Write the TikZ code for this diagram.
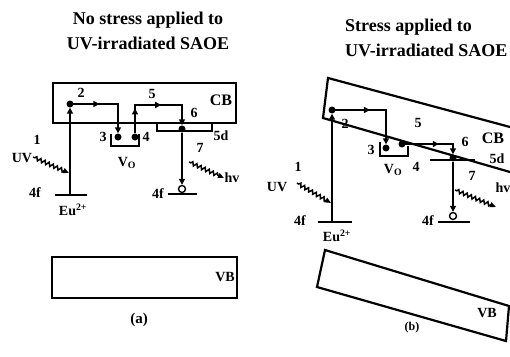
\documentclass[tikz,border=0pt]{standalone}
\usepackage{fontspec}
\setmainfont{Liberation Serif}
\usetikzlibrary{arrows.meta,decorations.pathmorphing,decorations.markings}

\tikzset{
	band/.style={line width=2.2pt, line join=miter},
	hop/.style={line width=2pt, line join=miter},
	tip/.style={-{Triangle[length=6pt,width=6pt]}},
	arrowat/.style={postaction={decorate, decoration={markings, mark=at position #1 with {\arrow{Triangle[length=6pt,width=6pt]}}}}},
	photon/.style={line width=1.5pt, decorate, decoration={snake, amplitude=1.8pt, segment length=4.5pt, pre length=2pt, post length=5pt}, -{Triangle[length=6pt,width=5pt]}},
	electron/.style={circle, fill, inner sep=0pt, minimum size=7pt},
	hole/.style={circle, draw, line width=1.4pt, fill=white, inner sep=0pt, minimum size=7pt},
	lbl/.style={font=\bfseries\fontsize{14}{14}\selectfont, inner sep=0pt},
	title/.style={font=\bfseries\fontsize{18}{25}\selectfont, inner sep=0pt},
}

\begin{document}
\begin{tikzpicture}[x=1pt, y=-1pt]
	\useasboundingbox (0,0) rectangle (510,356);
	% (a) no stress
	\node[title, align=center] (ttla) at (148,31) {No stress applied to\\UV-irradiated SAOE};
	\draw[band] (53,83) rectangle (236,123);
	\draw[band] (52,257) rectangle (237,298);
	\draw[band] (157,123) -- (157,131) -- (212,131) -- (212,123);
	\draw[band] (111,134) -- (111,146) -- (139,146) -- (139,134);
	\draw[band] (55,195) -- (87,195);
	\draw[band] (168,194) -- (197,194);
	\coordinate (eua) at (70,195);
	\node[electron] (ea) at (70,104) {};
	\node[electron] (da3) at (118,137) {};
	\node[electron] (da4) at (135,137) {};
	\node[electron] (xa6) at (182,129) {};
	\node[hole] (ha) at (182,189) {};
	\draw[hop, tip] (eua) -- (ea);
	\draw[hop, tip, arrowat=0.38] (ea.center) -- (ea -| da3) -- (da3);
	\draw[hop, tip, arrowat=0.26, arrowat=0.57] (da4.north) -- (135,105) -- (182,105) -- (xa6);
	\draw[hop, tip] (xa6) -- (ha);
	\coordinate (uva0) at (33,157);
	\coordinate (uva1) at (69,173);
	\draw[photon] (uva0) -- (uva1);
	\coordinate (hva0) at (189,162);
	\coordinate (hva1) at (224,178);
	\draw[photon] (hva0) -- (hva1);
	\node[lbl] (na1) at (37,140) {1};
	\node[lbl] (nauv) at (22,158) {UV};
	\node[lbl] (naf) at (35,193) {4f};
	\node[lbl] (naeu) at (73,210) {Eu\textsuperscript{2+}};
	\node[lbl] (na2) at (81,93) {2};
	\node[lbl] (na3) at (103,137) {3};
	\node[lbl] (na4) at (146,137) {4};
	\node[lbl] (navo) at (127,163) {V\textsubscript{O}};
	\node[lbl] (na5) at (152,94) {5};
	\node[lbl] (na6) at (194,113) {6};
	\node[lbl, font=\bfseries\fontsize{16}{16}\selectfont] (nacb) at (221,100) {CB};
	\node[lbl] (na5d) at (221,136) {5d};
	\node[lbl] (na7) at (200,148) {7};
	\node[lbl] (nahv) at (232,178) {hv};
	\node[lbl] (naf2) at (158,194) {4f};
	\node[lbl] (navb) at (225,277) {VB};
	\node[lbl, font=\bfseries\fontsize{15}{15}\selectfont] (nacap) at (139,320) {(a)};
	% (b) stress applied
	\node[title, align=left, anchor=west] (ttlb) at (345,38) {Stress applied to\\UV-irradiated SAOE};
	\draw[band] (510,127) -- (328,78) -- (323,118) -- (510,172);
	\draw[band] (325,250) -- (509,306) -- (506,341) -- (317,287) -- cycle;
	\draw[band] (380,142) -- (380,156) -- (408,156) -- (408,146);
	\draw[band] (430,160) -- (475,160);
	\draw[band] (318,222) -- (352,222);
	\draw[band] (438,222) -- (470,222);
	\coordinate (eub) at (332,222);
	\node[electron] (eb) at (332,110) {};
	\node[electron] (db3) at (386,148) {};
	\node[electron] (db4) at (402,144) {};
	\node[electron] (xb6) at (453,158) {};
	\node[hole] (hb) at (453,216) {};
	\draw[hop, tip] (eub) -- (eb);
	\draw[hop, tip, arrowat=0.43] (eb.center) -- (eb -| db3) -- (db3);
	\draw[hop, tip, arrowat=0.6] (db4.center) -- (db4 -| xb6) -- (xb6);
	\draw[hop, tip] (xb6) -- (hb);
	\coordinate (uvb0) at (297,183);
	\coordinate (uvb1) at (331,203);
	\draw[photon] (uvb0) -- (uvb1);
	\coordinate (hvb0) at (455,190);
	\coordinate (hvb1) at (496,207);
	\draw[photon] (hvb0) -- (hvb1);
	\node[lbl] (nb1) at (298,167) {1};
	\node[lbl] (nbuv) at (277,187) {UV};
	\node[lbl] (nbf) at (300,221) {4f};
	\node[lbl] (nbeu) at (337,236) {Eu\textsuperscript{2+}};
	\node[lbl] (nb2) at (345,124) {2};
	\node[lbl] (nb3) at (371,150) {3};
	\node[lbl] (nbvo) at (393,170) {V\textsubscript{O}};
	\node[lbl] (nb4) at (416,167) {4};
	\node[lbl] (nb5) at (418,123) {5};
	\node[lbl] (nb6) at (465,142) {6};
	\node[lbl, font=\bfseries\fontsize{16}{16}\selectfont] (nbcb) at (493,138) {CB};
	\node[lbl] (nb5d) at (497,159) {5d};
	\node[lbl] (nb7) at (472,176) {7};
	\node[lbl] (nbhv) at (503,188) {hv};
	\node[lbl] (nbf2) at (428,221) {4f};
	\node[lbl] (nbvb) at (487,313) {VB};
	\node[lbl, font=\bfseries\fontsize{12}{12}\selectfont] (nbcap) at (412,328) {(b)};
\end{tikzpicture}
\end{document}
